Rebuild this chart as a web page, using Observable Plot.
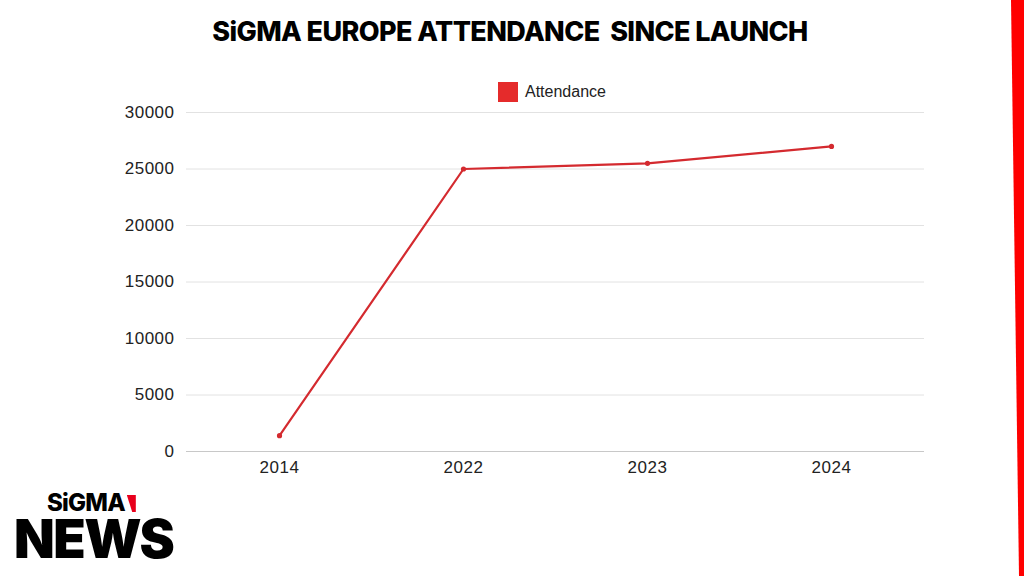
<!DOCTYPE html>
<html>
<head>
<meta charset="utf-8">
<script src="https://cdn.jsdelivr.net/npm/d3@7"></script>
<script src="https://cdn.jsdelivr.net/npm/@observablehq/plot@0.6"></script>
<style>
  html, body { margin: 0; padding: 0; background: #fff; }
  #page { position: relative; width: 1024px; height: 576px; overflow: hidden; background: #fff; font-family: "Liberation Sans", Arial, sans-serif; }
  #title { position: absolute; top: 14px; left: 0; width: 1020px; text-align: center; font-family: Inter, sans-serif; font-weight: 800; font-size: 27px; letter-spacing: -0.6px; color: #000; line-height: 36px; }
  #legend { position: absolute; top: 82px; left: 498px; display: flex; align-items: center; gap: 7px; font-size: 16px; color: #222; line-height: 20px; }
  #legend .sw { width: 20px; height: 20px; background: #e52b2b; }
  #chart { position: absolute; top: 104px; left: 0; }
  #logo1 { position: absolute; left: 47px; top: 492px; font-family: Inter, sans-serif; font-weight: 800; font-size: 24px; letter-spacing: -0.8px; color: #000; line-height: 22px; }
  #logo1 .tri { display: inline-block; width: 9px; height: 17px; background: #e8001c; clip-path: polygon(0 0, 100% 0, 100% 100%, 60% 100%); margin-left: 2px; vertical-align: -1px; }
  #logo2 { position: absolute; left: 14px; top: 517px; font-family: Inter, sans-serif; font-weight: 900; font-size: 53px; letter-spacing: -1.5px; color: #000; line-height: 44px; }
  #stripe { position: absolute; top: 0; left: 1008px; width: 16px; height: 576px; background: #ff0000; clip-path: polygon(3px 0, 16px 0, 16px 100%, 11px 100%); }
</style>
</head>
<body>
<div id="page">
  <div id="title">SiGMA EUROPE ATTENDANCE&nbsp; SINCE LAUNCH</div>
  <div id="legend"><div class="sw"></div><span>Attendance</span></div>
  <div id="chart"></div>
  <div id="logo1">SiGMA<span class="tri"></span></div>
  <div id="logo2">NEWS</div>
  <div id="stripe"></div>
</div>
<script>
const years = ["2014", "2022", "2023", "2024"];
const attendance = [1400, 25000, 25500, 27000];
const yTicks = [0, 5000, 10000, 15000, 20000, 25000, 30000];

const data = years.map((y, i) => ({year: y, value: attendance[i]}));

const chart = Plot.plot({
  width: 1024,
  height: 380,
  marginLeft: 186,
  marginRight: 100,
  marginTop: 8,
  marginBottom: 33,
  style: {fontFamily: "'Liberation Sans', Arial, sans-serif", fontSize: "17px", color: "#222", background: "transparent", letterSpacing: "0.5px"},
  x: {type: "point", domain: years, padding: 0.5, label: null},
  y: {domain: [0, 30000], ticks: yTicks, label: null},
  marks: [
    Plot.gridY(yTicks.filter(d => d > 0), {stroke: "#e2e2e2", strokeOpacity: 1, strokeWidth: 1}),
    Plot.ruleY([0], {stroke: "#c8c8c8", strokeWidth: 1}),
    Plot.axisY({ticks: yTicks, tickSize: 0, tickPadding: 12, tickFormat: d => String(d), fontSize: 17, fill: "#222"}),
    Plot.axisX({tickSize: 0, tickPadding: 9, fontSize: 17, fill: "#222"}),
    Plot.line(data, {x: "year", y: "value", stroke: "#d42a2f", strokeWidth: 2.2}),
    Plot.dot(data, {x: "year", y: "value", fill: "#d42a2f", r: 2.6})
  ]
});
document.getElementById("chart").appendChild(chart);
</script>
</body>
</html>
